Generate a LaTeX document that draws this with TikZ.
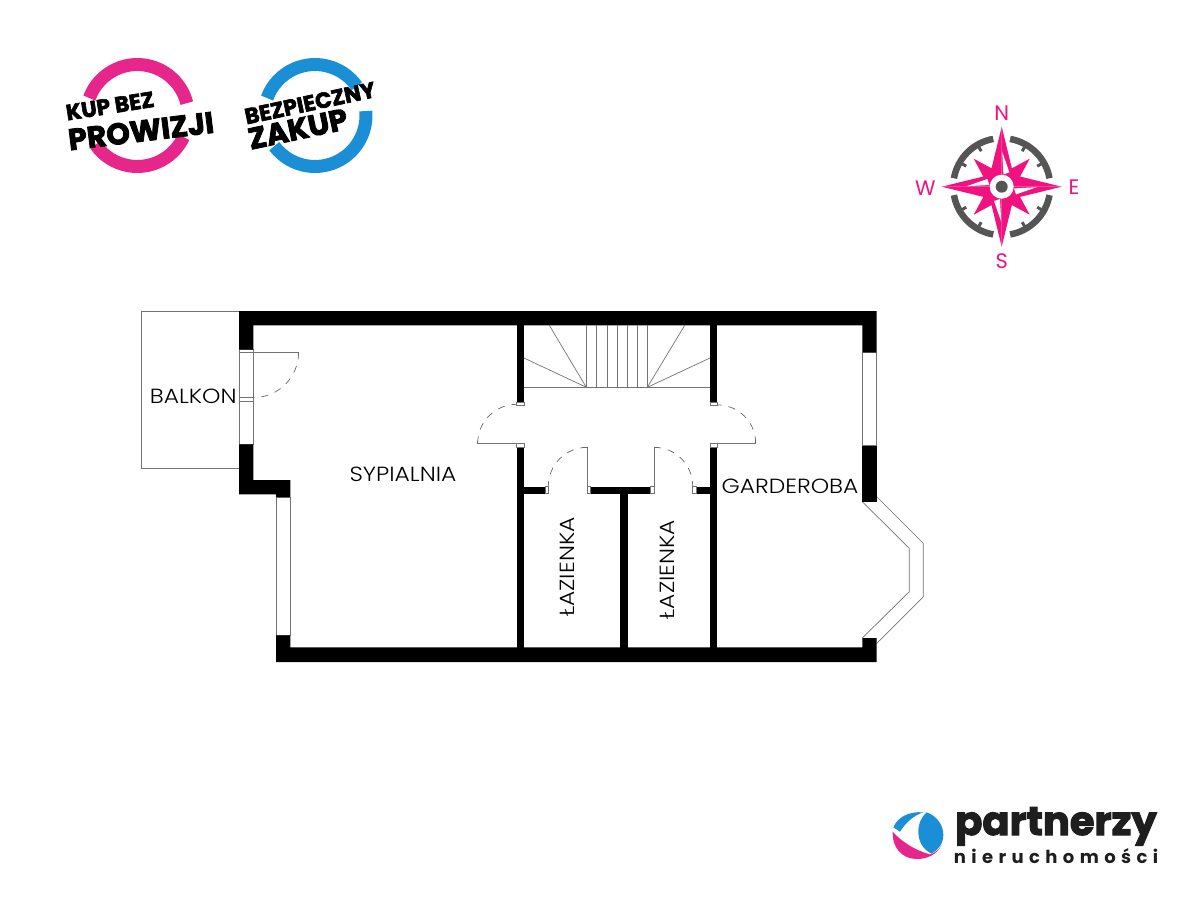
\documentclass[tikz,border=0pt]{standalone}
\usepackage{fontspec}
\setmainfont{Poppins}
\newfontfamily\heavyfont[BoldFeatures={FakeBold=2.6}]{Poppins}
\newfontfamily\roomfont[FakeStretch=1.14]{Poppins Light}
\newfontfamily\spacedfont[LetterSpace=30]{Poppins}
\definecolor{brandpink}{HTML}{E6268B}
\definecolor{brandblue}{HTML}{1B8FD6}
\definecolor{rosepink}{HTML}{F0127F}
\definecolor{rosegray}{HTML}{555555}
\definecolor{inkblack}{HTML}{1E1E1E}
\tikzset{wall/.style={fill=black,draw=none},
	thinline/.style={draw=black!55,line width=0.7pt},
	swing/.style={draw=black!60,line width=0.7pt,dash pattern=on 7pt off 7pt},
	room label/.style={inner sep=0pt,font=\roomfont\fontsize{20.5}{20.5}\selectfont},
	badge small/.style={inner sep=0pt,font=\heavyfont\bfseries\fontsize{22}{22}\selectfont},
	badge big/.style={inner sep=0pt,font=\heavyfont\bfseries\fontsize{30}{30}\selectfont},
	rose label/.style={inner sep=0pt,text=rosepink,font=\fontsize{21}{21}\selectfont},
}
\begin{document}
\begin{tikzpicture}[x=1pt,y=-1pt]
	\useasboundingbox (0,0) rectangle (1200,900);
	% balcony and windows
	\draw[thinline] (141.3,311) rectangle (239,468.7);
	\draw[thinline] (239,349.5) rectangle (253.3,444.3);
	\draw[thinline] (276,497) rectangle (290.3,635.3);
	\draw[thinline] (862.3,352.3) rectangle (876.7,445.7);
	\draw[thinline] (876.7,496.7) -- (923.3,543.3) -- (923.3,596.7) -- (876.7,643.3);
	\draw[thinline] (862.3,501.7) -- (909.3,548.3) -- (909.3,591.7) -- (862.3,638);
	% outer walls
	\fill[wall] (239,311) -- (876.7,311) -- (876.7,352.3) -- (862.3,352.3) -- (862.3,325.3)
		-- (253.3,325.3) -- (253.3,349.5) -- (239,349.5) -- cycle;
	\fill[wall] (239,444.3) -- (253.3,444.3) -- (253.3,480) -- (290.3,480) -- (290.3,497)
		-- (276,497) -- (276,494.3) -- (239,494.3) -- cycle;
	\fill[wall] (276,635.3) -- (290.3,635.3) -- (290.3,647.3) -- (862.3,647.3) -- (862.3,638)
		-- (876.7,638) -- (876.7,662) -- (276,662) -- cycle;
	\fill[wall] (862.3,445.7) rectangle (876.7,501.7);
	% inner walls
	\fill[wall] (516.7,325) rectangle (524,402);
	\fill[wall] (710,325) rectangle (717.3,402);
	\fill[wall] (516.7,447) rectangle (524,648);
	\fill[wall] (710,447) rectangle (717.3,648);
	\fill[wall] (620.3,490) rectangle (628,648);
	\fill[wall] (524,486.7) rectangle (545.3,493.7);
	\fill[wall] (590.7,486.7) rectangle (650.7,493.7);
	\fill[wall] (696,486.7) rectangle (710,493.7);
	% wall caps at the doors
	\foreach \cx in {516.7,710} {
		\draw[thinline] (\cx,402) rectangle (\cx+7.3,405.7);
		\draw[thinline] (\cx,443.3) rectangle (\cx+7.3,447);
	}
	\foreach \cx in {545.3,587.3,650.7,692.7}
		\draw[thinline] (\cx,486.7) rectangle (\cx+3.4,493.7);
	% stairs
	\draw[thinline] (524,387.3) -- (710,387.3);
	\foreach \sx in {586.3,596.7,607,617.3,627.7,637.7,647.3}
		\draw[thinline] (\sx,325.3) -- (\sx,387.3);
	\draw[thinline] (549.3,325.3) -- (586.3,387.3) -- (524,358);
	\draw[thinline] (684.7,325.3) -- (647.3,387.3) -- (710,358);
	% door leaves and swings
	\draw[thinline] (239,352.3) -- (298.6,352.3);
	\draw[thinline] (239,397.3) -- (253.3,397.3) (239,401) -- (253.3,401);
	\draw[swing] (298.6,352.3) arc[start angle=0,end angle=90,radius=45.3];
	\draw[thinline] (516.7,443.3) -- (477.7,443.3) -- (477.7,441);
	\draw[swing] (477.7,443.3) arc[start angle=180,end angle=270,radius=39];
	\draw[thinline] (717.3,443.3) -- (755.7,443.3) -- (755.7,441);
	\draw[swing] (755.7,443.3) arc[start angle=0,end angle=-90,radius=38.4];
	\draw[thinline] (587.3,486.7) -- (587.3,447.3) -- (584,447.3);
	\draw[swing] (587.3,447.3) arc[start angle=-90,end angle=-180,radius=39];
	\draw[thinline] (654,486.7) -- (654,447.3) -- (657.3,447.3);
	\draw[swing] (654,447.3) arc[start angle=-90,end angle=0,radius=38.7];
	% room names
	\node[room label] (balkon) at (193.3,396) {BALKON};
	\node[room label] (sypialnia) at (403,474.5) {SYPIALNIA};
	\node[room label] (garderoba) at (790,486.5) {GARDEROBA};
	\node[room label,rotate=90] (lazienka1) at (567.7,567) {ŁAZIENKA};
	\node[room label,rotate=90] (lazienka2) at (667.7,569.5) {ŁAZIENKA};
	% badges
	\draw[brandpink,line width=13pt] (137.3,115.5) ++(-160:51) arc[start angle=-160,end angle=-14,radius=51];
	\draw[brandpink,line width=13pt] (137.3,115.5) ++(-215:51) arc[start angle=-215,end angle=-335,radius=51];
	\draw[brandblue,line width=13pt] (315,115.5) ++(-160:51) arc[start angle=-160,end angle=-35,radius=51];
	\draw[brandblue,line width=13pt] (315,115.5) ++(-217:51) arc[start angle=-217,end angle=-365,radius=51];
	\node[badge small,rotate=9] (kupbez) at (110,106) {KUP BEZ};
	\node[badge big,rotate=7] (prowizji) at (141,131) {PROWIZJI};
	\node[badge small,rotate=12] (bezpieczny) at (310,103) {BEZPIECZNY};
	\node[badge big,rotate=12] (zakup) at (298,129) {ZAKUP};
	% compass rose
	\begin{scope}[shift={(1001.7,186.7)}]
		\foreach \a in {0,90,180,270} {
			\draw[rosegray,line width=6.5pt] (\a+10:48.5) arc[start angle=\a+10,end angle=\a+80,radius=48.5];
			\draw[rosegray,line width=3pt] (\a+30:46) -- (\a+30:41) (\a+60:46) -- (\a+60:41);
			\fill[rosepink] (\a:60) -- (\a+29:21) -- (\a+45:39.6) -- (\a+61:21) -- (\a+90:60) -- (0,0) -- cycle;
		}
		\foreach \a in {0,90,180,270}
			\fill[white,rotate=\a] (0.5,-35) -- (7.7,-14.3) -- (1.7,-12.3) -- cycle;
		\fill[white] (0,0) circle[radius=12];
		\fill[rosegray] (0,0) circle[radius=6];
	\end{scope}
	\node[rose label] (north) at (1001.7,112.7) {N};
	\node[rose label] (east) at (1074,187) {E};
	\node[rose label] (south) at (1001.7,260.7) {S};
	\node[rose label] (west) at (925.3,187.7) {W};
	% company mark
	\begin{scope}[shift={(880,795)},scale=0.3333]
		\fill[brandblue] (140,52) .. controls (170,62) and (190,90) .. (190,120)
			.. controls (190,145) and (175,165) .. (155,176)
			.. controls (130,165) and (115,140) .. (115,110)
			.. controls (115,85) and (125,65) .. (140,52) -- cycle;
		\fill[brandblue] (40,97) .. controls (52,68) and (85,48) .. (130,52)
			.. controls (100,62) and (78,82) .. (60,110) -- cycle;
		\fill[brandpink] (38,110) .. controls (60,135) and (100,165) .. (150,178)
			.. controls (165,175) and (178,162) .. (185,150)
			.. controls (170,180) and (140,192) .. (110,192)
			.. controls (65,192) and (35,155) .. (38,110) -- cycle;
	\end{scope}
	\node[anchor=base,inner sep=0pt,text=inkblack,font=\heavyfont\bfseries\fontsize{40}{40}\selectfont] (partnerzy) at (1056,835) {partnerzy};
	\node[anchor=base,inner sep=0pt,text=inkblack,font=\spacedfont\bfseries\fontsize{18}{18}\selectfont] (nieruchomosci) at (1056,863) {nieruchomości};
\end{tikzpicture}
\end{document}
